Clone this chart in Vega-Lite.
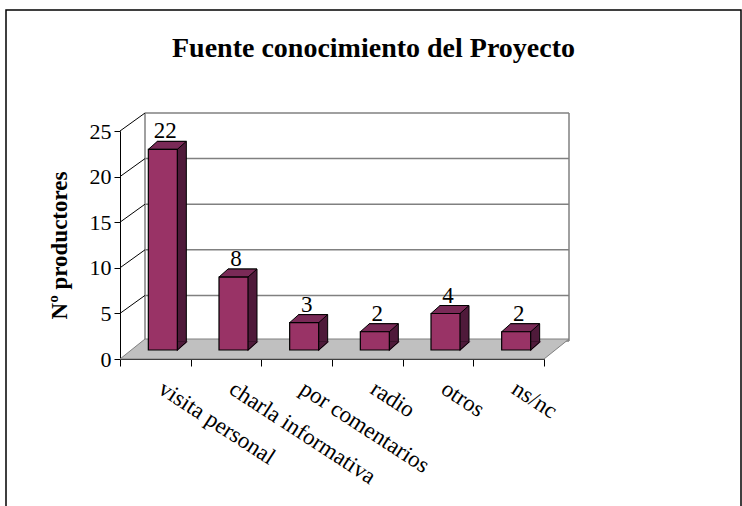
{
  "$schema": "https://vega.github.io/schema/vega-lite/v6.json",
  "width": 735,
  "height": 500,
  "autosize": "none",
  "padding": {"left": 6, "top": 10, "right": 1, "bottom": 0},
  "background": "white",
  "config": {
    "view": {"stroke": "black", "strokeWidth": 1.5, "fill": "white"},
    "font": "Liberation Serif"
  },
  "title": {
    "text": "Fuente conocimiento del Proyecto",
    "font": "Liberation Serif",
    "fontSize": 28,
    "fontWeight": "bold",
    "color": "black",
    "anchor": "middle",
    "frame": "group",
    "offset": -53
  },
  "data": {
    "values": [
      {"cat": "visita personal", "v": 22},
      {"cat": "charla informativa", "v": 8},
      {"cat": "por comentarios", "v": 3},
      {"cat": "radio", "v": 2},
      {"cat": "otros", "v": 4},
      {"cat": "ns/nc", "v": 2}
    ]
  },
  "encoding": {},
  "resolve": {"scale": {"x": "shared", "y": "shared"}},
  "layer": [
    {
      "data": {"values": [{"g": 0}, {"g": 5}, {"g": 10}, {"g": 15}, {"g": 20}, {"g": 25}]},
      "mark": {"type": "rule", "color": "#808080", "strokeWidth": 1.5, "xOffset": 25, "x2Offset": 25, "yOffset": -18},
      "encoding": {
        "x": {"datum": "visita personal", "bandPosition": 0, "type": "nominal",
              "scale": {"domain": ["visita personal", "charla informativa", "por comentarios", "radio", "otros", "ns/nc"], "range": [114, 538], "paddingInner": 0, "paddingOuter": 0},
              "axis": {"orient": "bottom", "offset": -151, "title": null, "domainColor": "black", "domainWidth": 1, "tickColor": "black", "tickSize": 7, "tickBand": "extent", "labelAngle": 33, "labelAlign": "left", "labelBaseline": "top", "labelPadding": 11, "labelOffset": 11, "labelFont": "Liberation Serif", "labelFontSize": 23, "labelColor": "black", "grid": false, "labelOverlap": false, "labelLimit": 400}},
        "x2": {"datum": "ns/nc", "bandPosition": 1},
        "y": {"field": "g", "type": "quantitative",
              "scale": {"domain": [0, 25], "range": [349, 121], "nice": false, "zero": true},
              "axis": {"orient": "left", "offset": -114, "values": [0, 5, 10, 15, 20, 25], "title": "Nº productores", "titleFont": "Liberation Serif", "titleFontSize": 23, "titleFontWeight": "bold", "titleColor": "black", "titlePadding": 18, "domainColor": "black", "domainWidth": 1, "tickColor": "black", "tickSize": 6, "labelFont": "Liberation Serif", "labelFontSize": 22, "labelColor": "black", "labelPadding": 3, "grid": false}}
      }
    },
    {
      "data": {"values": [{}]},
      "mark": {"type": "rule", "color": "#808080", "strokeWidth": 1.5, "xOffset": 25, "yOffset": -18, "y2Offset": -18},
      "encoding": {
        "x": {"datum": "visita personal", "bandPosition": 0, "type": "nominal"},
        "y": {"datum": 0, "type": "quantitative"},
        "y2": {"datum": 25}
      }
    },
    {
      "data": {"values": [{}]},
      "mark": {"type": "rule", "color": "#808080", "strokeWidth": 1.5, "xOffset": 25, "yOffset": -18, "y2Offset": -18},
      "encoding": {
        "x": {"datum": "ns/nc", "bandPosition": 1, "type": "nominal"},
        "y": {"datum": 0, "type": "quantitative"},
        "y2": {"datum": 25}
      }
    },
    {
      "data": {"values": [{"g": 5}, {"g": 10}, {"g": 15}, {"g": 20}, {"g": 25}]},
      "mark": {"type": "rule", "color": "black", "strokeWidth": 1, "x2Offset": 25, "y2Offset": -18},
      "encoding": {
        "x": {"datum": "visita personal", "bandPosition": 0, "type": "nominal"},
        "x2": {"datum": "visita personal", "bandPosition": 0},
        "y": {"field": "g", "type": "quantitative"},
        "y2": {"field": "g"}
      }
    },
    {
      "data": {"values": [{}]},
      "mark": {"type": "point", "shape": "M0,0 L424,0 L449,-20 L25,-20 Z", "size": 4, "filled": true, "fill": "#c0c0c0", "stroke": "#808080", "strokeWidth": 1, "opacity": 1},
      "encoding": {
        "x": {"datum": "visita personal", "bandPosition": 0, "type": "nominal"},
        "y": {"datum": 0, "type": "quantitative"}
      }
    },
    {
      "mark": {"type": "bar", "width": 29, "xOffset": 16.5, "yOffset": -17, "y2Offset": -17, "fill": "#4f1a3a", "stroke": "black", "strokeWidth": 1},
      "encoding": {
        "x": {"field": "cat", "type": "nominal", "sort": null},
        "y": {"field": "v", "type": "quantitative"},
        "y2": {"datum": 0}
      }
    },
    {
      "mark": {"type": "point", "shape": "M14.5,0 L23.5,-8 L14.5,-8 Z", "size": 4, "filled": true, "fill": "#4f1a3a", "stroke": "#4f1a3a", "strokeWidth": 1.2, "opacity": 1, "xOffset": 7.5, "yOffset": -9},
      "encoding": {
        "x": {"field": "cat", "type": "nominal", "sort": null},
        "y": {"datum": 0, "type": "quantitative"}
      }
    },
    {
      "mark": {"type": "point", "shape": "M14.5,0 L23.5,-8", "size": 4, "filled": false, "fillOpacity": 0, "stroke": "black", "strokeWidth": 1, "opacity": 1, "xOffset": 7.5, "yOffset": -9},
      "encoding": {
        "x": {"field": "cat", "type": "nominal", "sort": null},
        "y": {"datum": 0, "type": "quantitative"}
      }
    },
    {
      "mark": {"type": "point", "shape": "M-14.5,0 L14.5,0 L23.5,-8 L-5.5,-8 Z", "size": 4, "filled": true, "fill": "#7a2a57", "stroke": "black", "strokeWidth": 1, "opacity": 1, "xOffset": 7.5, "yOffset": -9},
      "encoding": {
        "x": {"field": "cat", "type": "nominal", "sort": null},
        "y": {"field": "v", "type": "quantitative"}
      }
    },
    {
      "mark": {"type": "bar", "width": 29, "xOffset": 7.5, "yOffset": -9, "y2Offset": -9, "fill": "#993366", "stroke": "black", "strokeWidth": 1.2},
      "encoding": {
        "x": {"field": "cat", "type": "nominal", "sort": null},
        "y": {"field": "v", "type": "quantitative"},
        "y2": {"datum": 0}
      }
    },
    {
      "mark": {"type": "text", "font": "Liberation Serif", "fontSize": 23, "color": "black", "baseline": "alphabetic", "align": "center", "xOffset": 10, "yOffset": -20},
      "encoding": {
        "x": {"field": "cat", "type": "nominal", "sort": null},
        "y": {"field": "v", "type": "quantitative"},
        "text": {"field": "v", "type": "quantitative"}
      }
    }
  ]
}
